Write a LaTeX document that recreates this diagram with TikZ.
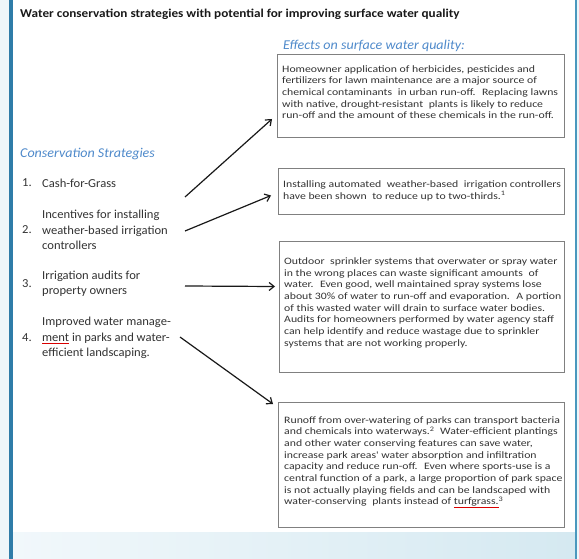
\documentclass[tikz,border=0pt]{standalone}
\usepackage{fontspec}
\setmainfont{Carlito}
\newfontfamily\titlefont{Carlito}[FakeStretch=1.1]
\newfontfamily\boxfont{Carlito}[FakeStretch=1.2]
\newfontfamily\itemfont{Carlito}[FakeStretch=1.03]
\newfontfamily\headfont{Carlito}[FakeStretch=1.04]
\usetikzlibrary{arrows.meta}
\definecolor{paleblue}{HTML}{EEF6FA}
\definecolor{shadeblue}{HTML}{D5E9F1}
\definecolor{barblue}{HTML}{2F7CA8}
\definecolor{edgeblue}{HTML}{4A98BE}
\definecolor{headblue}{HTML}{4F8ACB}
\definecolor{boxgray}{HTML}{808080}
\definecolor{bodygray}{HTML}{333333}
\newsavebox{\spellbox}
\newcommand{\spellmark}[1]{\sbox{\spellbox}{#1}\rlap{\raisebox{-2.4pt}{\textcolor{red!85!black}{\rule{\wd\spellbox}{0.5pt}}}}\usebox{\spellbox}}
\newcommand{\gap}{\hspace{0.3em}}
\begin{document}
\begin{tikzpicture}[x=1pt,y=-1pt,
  title/.style={font=\titlefont\bfseries\fontsize{12}{14}\selectfont, text=black!90, inner sep=0pt, anchor=west},
  heading/.style={font=\headfont\itshape\fontsize{13.5}{16}\selectfont, text=headblue, inner sep=0pt, anchor=west},
  itemtext/.style={font=\itemfont\fontsize{12.2}{15.3}\selectfont, text=bodygray, inner sep=0pt, anchor=west, align=left},
  itemnum/.style={font=\itemfont\fontsize{12.2}{15.3}\selectfont, text=bodygray, inner sep=0pt, anchor=west},
  effectbox/.style={draw=boxgray, line width=1pt, fill=white, inner sep=0pt, anchor=north west},
  boxtext/.style={font=\boxfont\fontsize{9.8}{11.67}\selectfont, text=bodygray, inner sep=0pt, anchor=north west, align=left},
  link/.style={draw=black!90, line width=1.2pt, -{Straight Barb[length=5pt,width=8pt]}}
]
\useasboundingbox (0,0) rectangle (579,559);

% page background, white sheet, blue edges
\fill[paleblue] (0,0) rectangle (579,559);
\fill[white] (12.5,0) rectangle (575,532);
\shade[left color=paleblue!80!white, right color=shadeblue] (12.5,532) rectangle (575,559);
\fill[barblue] (9,0) rectangle (12.5,559);
\fill[edgeblue] (575,0) rectangle (576.5,559);

% title and column headings
\node[title] (ttl) at (20,14) {Water conservation strategies with potential for improving surface water quality};
\node[heading] (effh) at (283,46) {Effects on surface water quality:};
\node[heading] (consh) at (20,154) {Conservation Strategies};

% strategies list
\node[itemnum] (n1) at (22,183) {1.};
\node[itemtext] (s1) at (42,183) {Cash-for-Grass};
\node[itemnum] (n2) at (22,230) {2.};
\node[itemtext] (s2) at (42,230) {Incentives for installing\\weather-based irrigation\\controllers};
\node[itemnum] (n3) at (22,284) {3.};
\node[itemtext] (s3) at (42,284) {Irrigation audits for\\property owners};
\node[itemnum] (n4) at (22,338) {4.};
\node[itemtext] (s4) at (42,338) {Improved water manage-\\\spellmark{ment} in parks and water-\\efficient landscaping.};

% effect boxes
\node[effectbox, minimum width=287pt, minimum height=83pt] (b1) at (277,54) {};
\node[effectbox, minimum width=286pt, minimum height=46pt] (b2) at (278,168) {};
\node[effectbox, minimum width=285pt, minimum height=131pt] (b3) at (279,241) {};
\node[effectbox, minimum width=286pt, minimum height=125pt] (b4) at (278,402) {};

\node[boxtext] (e1) at ([shift={(5,11)}]b1.north west) {Homeowner application of herbicides, pesticides and\\fertilizers for lawn maintenance are a major source of\\chemical contaminants\gap{} in urban run-off.\gap{} Replacing lawns\\with native, drought-resistant\gap{} plants is likely to reduce\\run-off and the amount of these chemicals in the run-off.};
\node[boxtext] (e2) at ([shift={(5,12.5)}]b2.north west) {Installing automated\gap{} weather-based\gap{} irrigation controllers\\have been shown\gap{} to reduce up to two-thirds.\textsuperscript{1}};
\node[boxtext] (e3) at ([shift={(5,16.5)}]b3.north west) {Outdoor\gap{} sprinkler systems that overwater or spray water\\in the wrong places can waste significant amounts\gap{} of\\water.\gap{} Even good, well maintained spray systems lose\\about 30\% of water to run-off and evaporation.\gap{} A portion\\of this wasted water will drain to surface water bodies.\\Audits for homeowners performed by water agency staff\\can help identify and reduce wastage due to sprinkler\\systems that are not working properly.};
\node[boxtext] (e4) at ([shift={(6,14)}]b4.north west) {Runoff from over-watering of parks can transport bacteria\\and chemicals into waterways.\textsuperscript{2}\gap{} Water-efficient plantings\\and other water conserving features can save water,\\increase park areas' water absorption and infiltration\\capacity and reduce run-off.\gap{} Even where sports-use is a\\central function of a park, a large proportion of park space\\is not actually playing fields and can be landscaped with\\water-conserving\gap{} plants instead of \spellmark{turfgrass.}\textsuperscript{3}};

% connectors from strategies to effects
\coordinate (p1) at (185,197);
\coordinate (p2) at (185,231);
\coordinate (p3) at (185,286);
\coordinate (p4) at (180,337);
\draw[link] (p1) -- ([shift={(-5,-19)}]b1.south west);
\draw[link] (p2) -- ([shift={(-7,4)}]b2.west);
\draw[link] (p3) -- ([shift={(-4,-20.5)}]b3.west);
\draw[link] (p4) -- ([shift={(-5,2)}]b4.north west);
\end{tikzpicture}
\end{document}
